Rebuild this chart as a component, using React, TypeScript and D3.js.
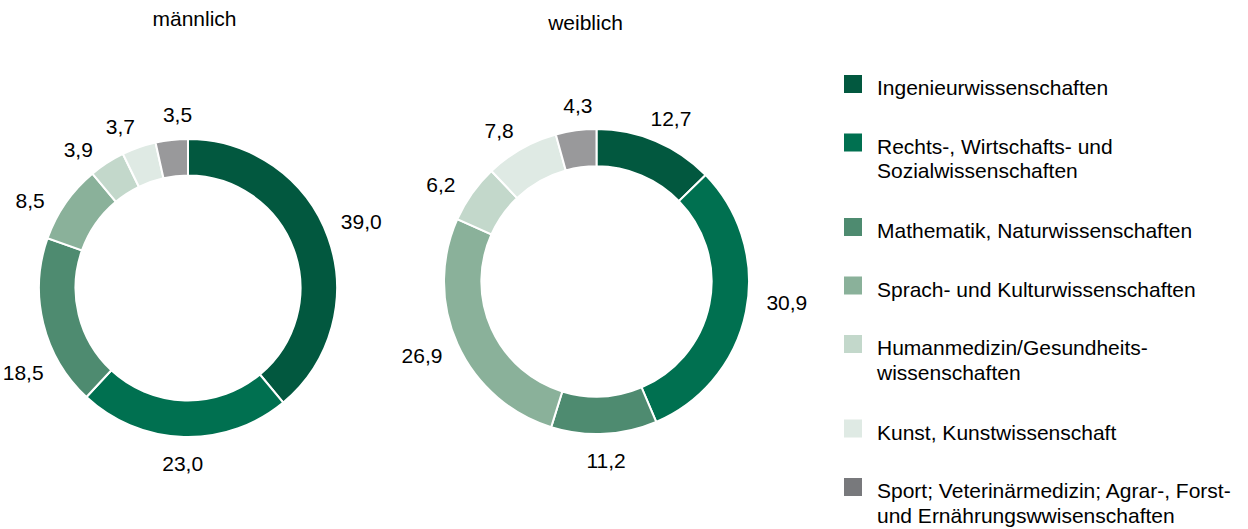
import React from "react";
import * as d3 from "d3";

const categories = [
  "Ingenieurwissenschaften",
  "Rechts-, Wirtschafts- und|Sozialwissenschaften",
  "Mathematik, Naturwissenschaften",
  "Sprach- und Kulturwissenschaften",
  "Humanmedizin/Gesundheits-|wissenschaften",
  "Kunst, Kunstwissenschaft",
  "Sport; Veterinärmedizin; Agrar-, Forst-|und Ernährungswwisenschaften",
];
const maleValues = [39.0, 23.0, 18.5, 8.5, 3.9, 3.7, 3.5];
const femaleValues = [12.7, 30.9, 11.2, 26.9, 6.2, 7.8, 4.3];
const seriesTitles = ["männlich", "weiblich"];

const sliceColors = ["#02583F", "#007050", "#4E8B70", "#8AB19A", "#C3D8CB", "#DFEAE4", "#99999B"];
const legendColors = ["#02583F", "#007050", "#4E8B70", "#8AB19A", "#C3D8CB", "#DFEAE4", "#78797C"];

const FONT = "'Liberation Sans', Arial, sans-serif";
const FS = 21;

const fmt = (v: number) => v.toFixed(1).replace(".", ",");

type PieSpec = {
  values: number[];
  cx: number;
  cy: number;
  r: number;
  title: string;
  tx: number;
  ty: number;
  labelAngleNudge: number[];
};

function Donut({ spec }: { spec: PieSpec }) {
  const pie = d3.pie<number>().sort(null).value((d) => d);
  const arcs = pie(spec.values);
  const inner = spec.r * 0.755;
  const arc = d3.arc<d3.PieArcDatum<number>>().innerRadius(inner).outerRadius(spec.r);
  const gap = 18;
  const capH = 15;
  return (
    <g>
      <text x={spec.tx} y={spec.ty} textAnchor="middle" fontFamily={FONT} fontSize={FS} fill="#000">
        {spec.title}
      </text>
      <g transform={`translate(${spec.cx},${spec.cy})`}>
        {arcs.map((a, i) => (
          <path key={i} d={arc(a) || ""} fill={sliceColors[i]} stroke="#fff" strokeWidth={2} />
        ))}
        {arcs.map((a, i) => {
          const mid = (a.startAngle + a.endAngle) / 2 + ((spec.labelAngleNudge[i] || 0) * Math.PI) / 180;
          const dx = Math.sin(mid);
          const dy = -Math.cos(mid);
          const label = fmt(a.data);
          const w = label.length * 0.5 * FS;
          const x = dx * (spec.r + gap) + (dx * w) / 2;
          const y = dy * (spec.r + gap) + (dy * capH) / 2;
          return (
            <text key={"l" + i} x={x} y={y + capH / 2 + 1} textAnchor="middle" fontFamily={FONT} fontSize={FS} fill="#000">
              {label}
            </text>
          );
        })}
      </g>
    </g>
  );
}

export default function App() {
  const pies: PieSpec[] = [
    { values: maleValues, cx: 188, cy: 288, r: 149, title: seriesTitles[0], tx: 194.5, ty: 26, labelAngleNudge: [-3, 0, -15, -4.5, -4, -2.5, 3] },
    { values: femaleValues, cx: 596.5, cy: 281.5, r: 152.5, title: seriesTitles[1], tx: 585.5, ty: 30, labelAngleNudge: [0, -5, 0, 0, -2, -2, 2] },
  ];
  let yCursor = 75;
  const legendItems = categories.map((c, i) => {
    const lines = c.split("|");
    const y = yCursor;
    yCursor += 58.5 + (lines.length - 1) * 26;
    return { lines, y, color: legendColors[i] };
  });
  return (
    <svg width={1248} height={529} style={{ position: "absolute", left: 0, top: 0, background: "#fff" }}>
      {pies.map((p, i) => (
        <Donut key={i} spec={p} />
      ))}
      <g>
        {legendItems.map((it, i) => (
          <g key={i}>
            <rect x={844} y={it.y} width={18} height={18} fill={it.color} />
            <text x={877} y={it.y + 20} fontFamily={FONT} fontSize={FS} fill="#000">
              {it.lines.map((l, j) => (
                <tspan key={j} x={877} dy={j === 0 ? 0 : 24.5}>
                  {l}
                </tspan>
              ))}
            </text>
          </g>
        ))}
      </g>
    </svg>
  );
}
